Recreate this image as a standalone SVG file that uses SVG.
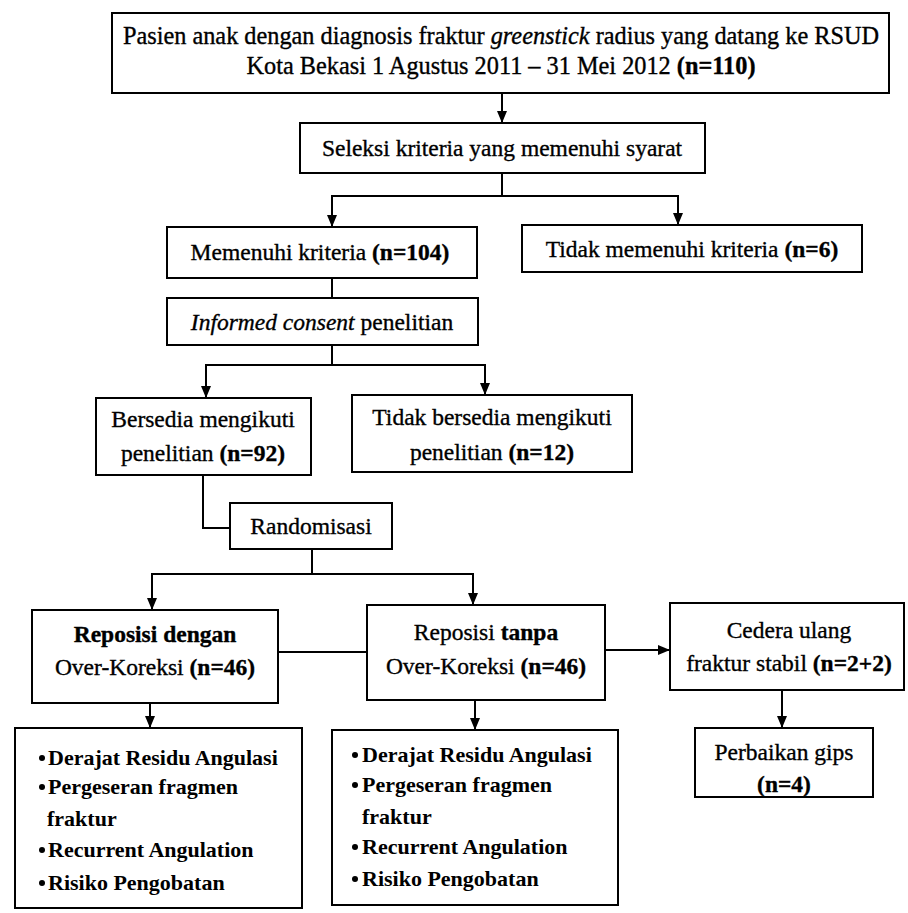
<svg xmlns="http://www.w3.org/2000/svg" width="908" height="913" viewBox="0 0 908 913">
<defs>
<marker id="arr" viewBox="0 0 12 10" refX="12" refY="5" markerWidth="12" markerHeight="10" markerUnits="userSpaceOnUse" orient="auto">
<path d="M0,0 L12,5 L0,10 z" fill="#000"/>
</marker>
</defs>
<style>
.box{fill:#fff;stroke:#000;stroke-width:2}
.t{font-family:"Liberation Serif","Times New Roman",serif;font-size:23.5px;fill:#000;stroke:#000;stroke-width:0.35;text-anchor:middle}
.big{font-size:24.3px}
.l{font-family:"Liberation Serif","Times New Roman",serif;font-size:22px;font-weight:bold;fill:#000}
.b{font-weight:bold}
.i{font-style:italic}
.c{fill:none;stroke:#000;stroke-width:2}
.a{marker-end:url(#arr)}
</style>
<rect width="908" height="913" fill="#fff"/>
<g id="connectors">
<path class="c a" d="M502,93 V123"/>
<path class="c a" d="M502,173 V196 H332 V227"/>
<path class="c a" d="M502,196 H678 V225"/>
<path class="c" d="M332,278 V298"/>
<path class="c a" d="M332,345 V365 H206 V398"/>
<path class="c a" d="M332,365 H485 V395"/>
<path class="c" d="M203,475 V528 H230"/>
<path class="c a" d="M312,549 V574 H152 V610"/>
<path class="c a" d="M312,574 H473 V605"/>
<path class="c" d="M278,652 H367"/>
<path class="c a" d="M605,650 H670"/>
<path class="c a" d="M150,703 V728"/>
<path class="c a" d="M475,700 V730"/>
<path class="c a" d="M782,690 V728"/>
</g>
<g id="n-top">
<rect class="box" x="112" y="13" width="777" height="80"/>
<text class="t big" x="501" y="44">Pasien anak dengan diagnosis fraktur <tspan class="i">greenstick</tspan> radius yang datang ke RSUD</text>
<text class="t big" x="501" y="74">Kota Bekasi 1 Agustus 2011 – 31 Mei 2012 <tspan class="b">(n=110)</tspan></text>
</g>
<g id="n-seleksi">
<rect class="box" x="300" y="123" width="405" height="50"/>
<text class="t" x="502" y="156">Seleksi kriteria yang memenuhi syarat</text>
</g>
<g id="n-memenuhi">
<rect class="box" x="167" y="227" width="310" height="51"/>
<text class="t" x="320" y="260">Memenuhi kriteria <tspan class="b">(n=104)</tspan></text>
</g>
<g id="n-tidak-memenuhi">
<rect class="box" x="522" y="225" width="340" height="47"/>
<text class="t" x="692" y="257">Tidak memenuhi kriteria <tspan class="b">(n=6)</tspan></text>
</g>
<g id="n-informed">
<rect class="box" x="167" y="298" width="311" height="47"/>
<text class="t" x="322" y="330"><tspan class="i">Informed consent</tspan> penelitian</text>
</g>
<g id="n-bersedia">
<rect class="box" x="96" y="398" width="215" height="77"/>
<text class="t" x="203" y="427">Bersedia mengikuti</text>
<text class="t" x="203" y="461">penelitian <tspan class="b">(n=92)</tspan></text>
</g>
<g id="n-tidak-bersedia">
<rect class="box" x="352" y="395" width="280" height="77"/>
<text class="t" x="492" y="425">Tidak bersedia mengikuti</text>
<text class="t" x="492" y="460">penelitian <tspan class="b">(n=12)</tspan></text>
</g>
<g id="n-randomisasi">
<rect class="box" x="230" y="503" width="162" height="46"/>
<text class="t" x="311" y="534">Randomisasi</text>
</g>
<g id="n-dengan">
<rect class="box" x="32" y="610" width="246" height="93"/>
<text class="t b" x="155" y="642">Reposisi dengan</text>
<text class="t" x="155" y="675">Over-Koreksi <tspan class="b">(n=46)</tspan></text>
</g>
<g id="n-tanpa">
<rect class="box" x="367" y="605" width="238" height="95"/>
<text class="t" x="486" y="640">Reposisi <tspan class="b">tanpa</tspan></text>
<text class="t" x="486" y="674">Over-Koreksi <tspan class="b">(n=46)</tspan></text>
</g>
<g id="n-cedera">
<rect class="box" x="670" y="603" width="234" height="87"/>
<text class="t" x="789" y="638">Cedera ulang</text>
<text class="t" x="789" y="671">fraktur stabil <tspan class="b">(n=2+2)</tspan></text>
</g>
<g id="n-perbaikan">
<rect class="box" x="695" y="728" width="178" height="69"/>
<text class="t" x="784" y="760">Perbaikan gips</text>
<text class="t b" x="784" y="792">(n=4)</text>
</g>
<g id="n-list-dengan">
<rect class="box" x="15" y="728" width="287" height="180"/>
<circle cx="42" cy="758" r="3"/>
<text class="l" x="48" y="765">Derajat Residu Angulasi</text>
<circle cx="42" cy="787" r="3"/>
<text class="l" x="48" y="794">Pergeseran fragmen</text>
<text class="l" x="47" y="826">fraktur</text>
<circle cx="42" cy="850" r="3"/>
<text class="l" x="48" y="857">Recurrent Angulation</text>
<circle cx="42" cy="883" r="3"/>
<text class="l" x="48" y="890">Risiko Pengobatan</text>
</g>
<g id="n-list-tanpa">
<rect class="box" x="332" y="730" width="286" height="175"/>
<circle cx="355" cy="755" r="3"/>
<text class="l" x="362" y="762">Derajat Residu Angulasi</text>
<circle cx="355" cy="785" r="3"/>
<text class="l" x="362" y="792">Pergeseran fragmen</text>
<text class="l" x="362" y="824">fraktur</text>
<circle cx="355" cy="847" r="3"/>
<text class="l" x="362" y="854">Recurrent Angulation</text>
<circle cx="355" cy="879" r="3"/>
<text class="l" x="362" y="886">Risiko Pengobatan</text>
</g>
</svg>
